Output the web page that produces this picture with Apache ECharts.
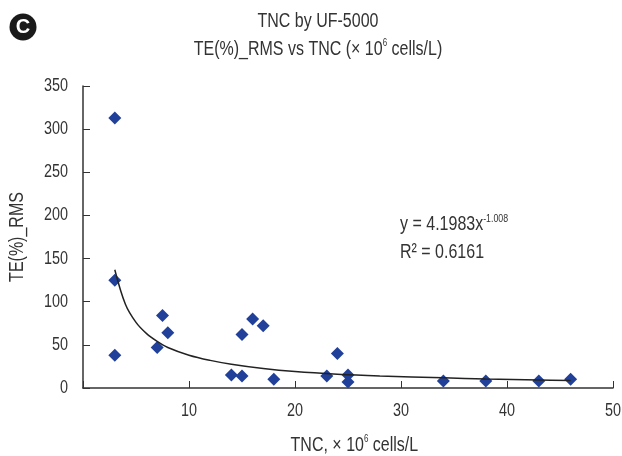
<!DOCTYPE html>
<html><head><meta charset="utf-8">
<style>html,body{margin:0;padding:0;background:#fff}#c{width:622px;height:456px}</style>
<script src="https://cdn.jsdelivr.net/npm/echarts@6/dist/echarts.min.js"></script>
</head><body><div id="c"></div>
<script>
const xMeasured = [3, 3, 3, 7, 7.5, 8, 14, 15, 15, 16, 17, 18, 23, 24, 25, 25, 34, 38, 43, 46];
const yMeasured = [313, 125, 38, 47, 84, 64, 15, 14, 62, 80, 72, 10, 14, 40, 15, 7, 8, 8, 8, 10];
const xTrend = [3, 4, 5, 6, 7, 8, 10, 12, 14, 17, 20, 24, 28, 34, 38, 43, 46];
const yTrend = [137, 97, 76, 63, 54, 47, 38, 32, 27.5, 22.5, 19, 16, 14, 11.8, 10.5, 9.3, 8.6];
const xTicks = [0, 10, 20, 30, 40, 50];
const yTicks = [0, 50, 100, 150, 200, 250, 300, 350];
const titleLine1 = 'TNC by UF-5000';
const panelLetter = 'C';
const yName = 'TE(%)_RMS';

const font = '"Liberation Sans", sans-serif';
const ink = '#333333';
const narrow = 0.8;
const zip = (a, b) => a.map((v, i) => [v, b[i]]);
const sup = { fontFamily: font, fontSize: 10, color: ink, verticalAlign: 'top', lineHeight: 22, padding: [0, 0, 8, 0] };
const base = s => ({ fontFamily: font, fontSize: s, color: ink });

const chart = echarts.init(document.getElementById('c'), null, { renderer: 'canvas' });
chart.setOption({
  animation: false,
  backgroundColor: '#fff',
  title: {
    left: 313, top: 6, textAlign: 'center', itemGap: 7,
    text: titleLine1,
    textStyle: { fontFamily: font, fontSize: 20, fontWeight: 'normal', color: ink },
    subtext: '{b|TE(%)_RMS vs TNC (\u00d7 10}{s|6}{b| cells/L)}',
    subtextStyle: { fontFamily: font, fontSize: 20, color: ink, rich: { b: base(20), s: sup } }
  },
  grid: { left: 83, right: 9, top: 86, bottom: 68, outerBoundsMode: 'none' },
  xAxis: {
    type: 'value', min: xTicks[0], max: xTicks[xTicks.length - 1], interval: 10,
    splitLine: { show: false },
    axisLine: { lineStyle: { color: ink, width: 1.5 }, onZero: false },
    axisTick: { inside: true, length: 7, lineStyle: { color: ink, width: 1 } },
    axisLabel: { fontFamily: font, fontSize: 18, color: ink, margin: 14,
      formatter: v => v === 0 ? '' : String(v) },
    name: '{b|TNC, \u00d7 10}{s|6}{b| cells/L}',
    nameLocation: 'middle', nameGap: 46,
    nameTextStyle: { padding: [0, 0, 0, 16], rich: { b: base(20), s: sup } }
  },
  yAxis: {
    type: 'value', min: yTicks[0], max: yTicks[yTicks.length - 1], interval: 50,
    splitLine: { show: false },
    axisLine: { lineStyle: { color: ink, width: 1.5 } },
    axisTick: { inside: true, length: 7, lineStyle: { color: ink, width: 1 } },
    axisLabel: { fontFamily: font, fontSize: 18, color: ink, margin: 15 },
    name: yName, nameLocation: 'middle', nameGap: 55,
    nameTextStyle: { fontFamily: font, fontSize: 20, color: ink }
  },
  series: [
    { type: 'line', data: zip(xTrend, yTrend), smooth: 0.35, showSymbol: false, symbol: 'none',
      lineStyle: { color: '#222222', width: 1.5 }, z: 3 },
    { type: 'scatter', data: zip(xMeasured, yMeasured), symbol: 'diamond', symbolSize: 13,
      itemStyle: { color: '#21409a', opacity: 1 }, z: 2 }
  ],
  graphic: [
    { type: 'circle', shape: { cx: 23, cy: 27, r: 13.5 }, style: { fill: '#1a1a1a' } },
    { type: 'text', x: 23, y: 27, style: { text: panelLetter, fill: '#fff', align: 'center', verticalAlign: 'middle',
        font: 'bold 20px "Liberation Sans", sans-serif' } },
    { type: 'text', x: 400, y: 224, style: {
        text: '{b|y = 4.1983x}{s|-1.008}', align: 'left', verticalAlign: 'middle', fill: ink,
        rich: { b: base(20), s: Object.assign({}, sup, { fontSize: 11 }) } } },
    { type: 'text', x: 400, y: 252, style: {
        text: 'R\u00b2 = 0.6161', align: 'left', verticalAlign: 'middle',
        font: '20px ' + font, fill: ink } }
  ]
});

// The reference uses a condensed face; none is installed, so narrow the real text horizontally.
function condense(el) {
  if (el.type === 'text' && el.style && el.style.text !== panelLetter) {
    el.originX = el.style.x || 0;
    el.originY = el.style.y || 0;
    el.scaleX = narrow;
    el.markRedraw();
  }
  if (el.childrenRef) el.childrenRef().forEach(condense);
}
chart.getZr().storage.getRoots().forEach(condense);
chart.getZr().flush();
</script></body></html>
